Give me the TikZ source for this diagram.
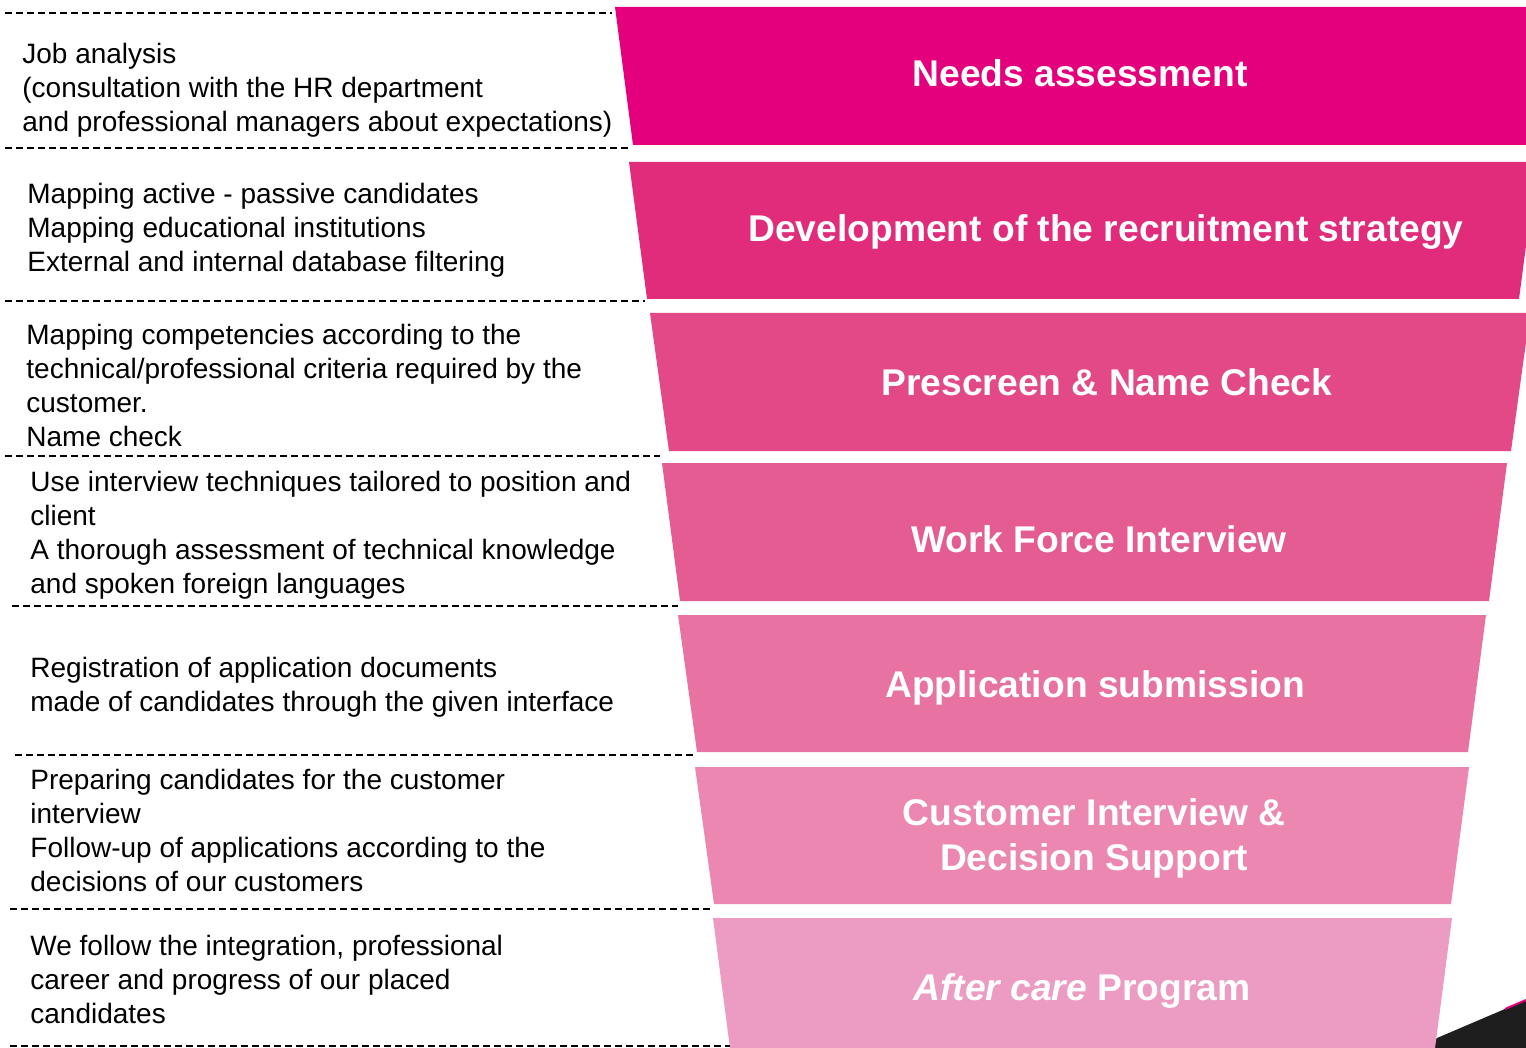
\documentclass[tikz,border=0pt]{standalone}
\usepackage{fontspec}
\setmainfont{Liberation Sans}
\definecolor{bandA}{HTML}{E4007D}
\definecolor{bandB}{HTML}{E12B7B}
\definecolor{bandC}{HTML}{E34887}
\definecolor{bandD}{HTML}{E55C93}
\definecolor{bandE}{HTML}{E873A2}
\definecolor{bandF}{HTML}{EC87B1}
\definecolor{bandG}{HTML}{EC9BC2}
\definecolor{darkcorner}{HTML}{1E1E1E}
\begin{document}
\begin{tikzpicture}[x=0.5pt,y=-0.5pt,
  title/.style={text=white,font=\fontsize{18.6}{22.5}\selectfont\bfseries,align=center,inner sep=0},
  desc/.style={anchor=base west,align=left,inner sep=0,font=\fontsize{14}{17}\selectfont,text=black},
  sep/.style={black,line width=1pt,dash pattern=on 3.5pt off 2pt}]
\useasboundingbox (0,0) rectangle (1526,1048);
\clip (0,0) rectangle (1526,1048);
\fill[white] (0,0) rectangle (1526,1048);

% dark corner behind the last band
\fill[darkcorner] (1430,1048) -- (1437,1038) -- (1526,1000) -- (1526,1048) -- cycle;
\draw[bandA,line width=1pt] (1505,1009) -- (1526,1000);

% funnel bands
\fill[bandA] (615,7) -- (633,145) -- (1560,145) -- (1560,7) -- cycle;
\fill[bandB] (629,162) -- (647,299) -- (1519,299) -- (1537,162) -- cycle;
\fill[bandC] (650,313) -- (669,451) -- (1511,451) -- (1530,313) -- cycle;
\fill[bandD] (662,463) -- (680,601) -- (1489,601) -- (1507,463) -- cycle;
\fill[bandE] (678,615) -- (697,752) -- (1468,752) -- (1486,615) -- cycle;
\fill[bandF] (695,767) -- (714,904) -- (1451,904) -- (1469,767) -- cycle;
\fill[bandG] (713,918) -- (731,1056) -- (1434,1056) -- (1452,918) -- cycle;

% titles
\node[title,anchor=base] (t1) at (1080,87) {Needs assessment};
\node[title,anchor=base] (t2) at (1106,242) {Development of the recruitment strategy};
\node[title,anchor=base] (t3) at (1107,395) {Prescreen \& Name Check};
\node[title,anchor=base] (t4) at (1099,552) {Work Force Interview};
\node[title,anchor=base] (t5) at (1095,697) {Application submission};
\node[title] (t6) at (1094,838) {Customer Interview \&\\Decision Support};
\node[title,anchor=base] (t7) at (1082,1000) {\itshape After care\upshape{} Program};

% separators
\draw[sep] (5,13) -- (612,13);
\draw[sep] (5,148) -- (630,148);
\draw[sep] (5,301) -- (645,301);
\draw[sep] (5,456) -- (660,456);
\draw[sep] (12,606) -- (678,606);
\draw[sep] (15,755) -- (695,755);
\draw[sep] (10,909) -- (712,909);
\draw[sep] (10,1046) -- (730,1046);

% descriptions (anchor = baseline of last line)
\node[desc] (d1) at (22,132) {Job analysis\\(consultation with the HR department\\and professional managers about expectations)};
\node[desc] (d2) at (27,271) {Mapping active - passive candidates\\Mapping educational institutions\\External and internal database filtering};
\node[desc] (d3) at (26,446) {Mapping competencies according to the\\technical/professional criteria required by the\\customer.\\Name check};
\node[desc] (d4) at (30,593) {Use interview techniques tailored to position and\\client\\A thorough assessment of technical knowledge\\and spoken foreign languages};
\node[desc] (d5) at (30,711) {Registration of application documents\\made of candidates through the given interface};
\node[desc] (d6) at (30,891) {Preparing candidates for the customer\\interview\\Follow-up of applications according to the\\decisions of our customers};
\node[desc] (d7) at (30,1023) {We follow the integration, professional\\career and progress of our placed\\candidates};
\end{tikzpicture}
\end{document}
